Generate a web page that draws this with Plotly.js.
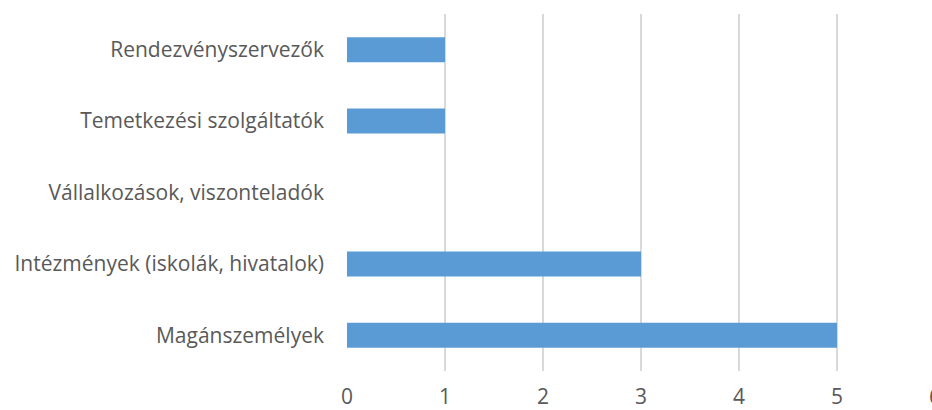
<!DOCTYPE html>
<html><head><meta charset="utf-8">
<script src="https://cdn.plot.ly/plotly-3.0.1.min.js"></script>
<style>html,body{margin:0;padding:0;overflow:hidden;background:#fff;width:932px;height:410px}</style>
</head><body>
<div id="chart"></div>
<script>
const categories = ["Magánszemélyek", "Intézmények (iskolák, hivatalok)", "Vállalkozások, viszonteladók", "Temetkezési szolgáltatók", "Rendezvényszervezők"];
const values = [5, 3, 0, 1, 1];
const xTicks = [0, 1, 2, 3, 4, 5, 6];

Plotly.newPlot('chart', [{
  type: 'bar', orientation: 'h',
  y: categories, x: values,
  marker: {color: '#5B9BD5'},
  hoverinfo: 'x+y'
}], {
  width: 950, height: 410,
  margin: {l: 347, r: 15, t: 14, b: 39},
  paper_bgcolor: '#fff', plot_bgcolor: '#fff',
  bargap: 0.65,
  showlegend: false,
  font: {family: 'Open Sans, sans-serif', color: '#595959', size: 21},
  xaxis: {
    range: [0, 6], tickvals: xTicks, ticktext: xTicks.map(String),
    showgrid: true, gridcolor: '#D9D9D9', gridwidth: 1.3,
    zeroline: false, showline: false, ticks: '',
    ticklabelstandoff: 11,
    tickfont: {size: 21, color: '#595959'}
  },
  yaxis: {
    type: 'category', categoryorder: 'array', categoryarray: categories,
    showgrid: false, zeroline: false, showline: false, ticks: '',
    ticklabelstandoff: 22,
    tickfont: {size: 21, color: '#595959'}
  }
}, {displayModeBar: false, staticPlot: true});
</script>
</body></html>
